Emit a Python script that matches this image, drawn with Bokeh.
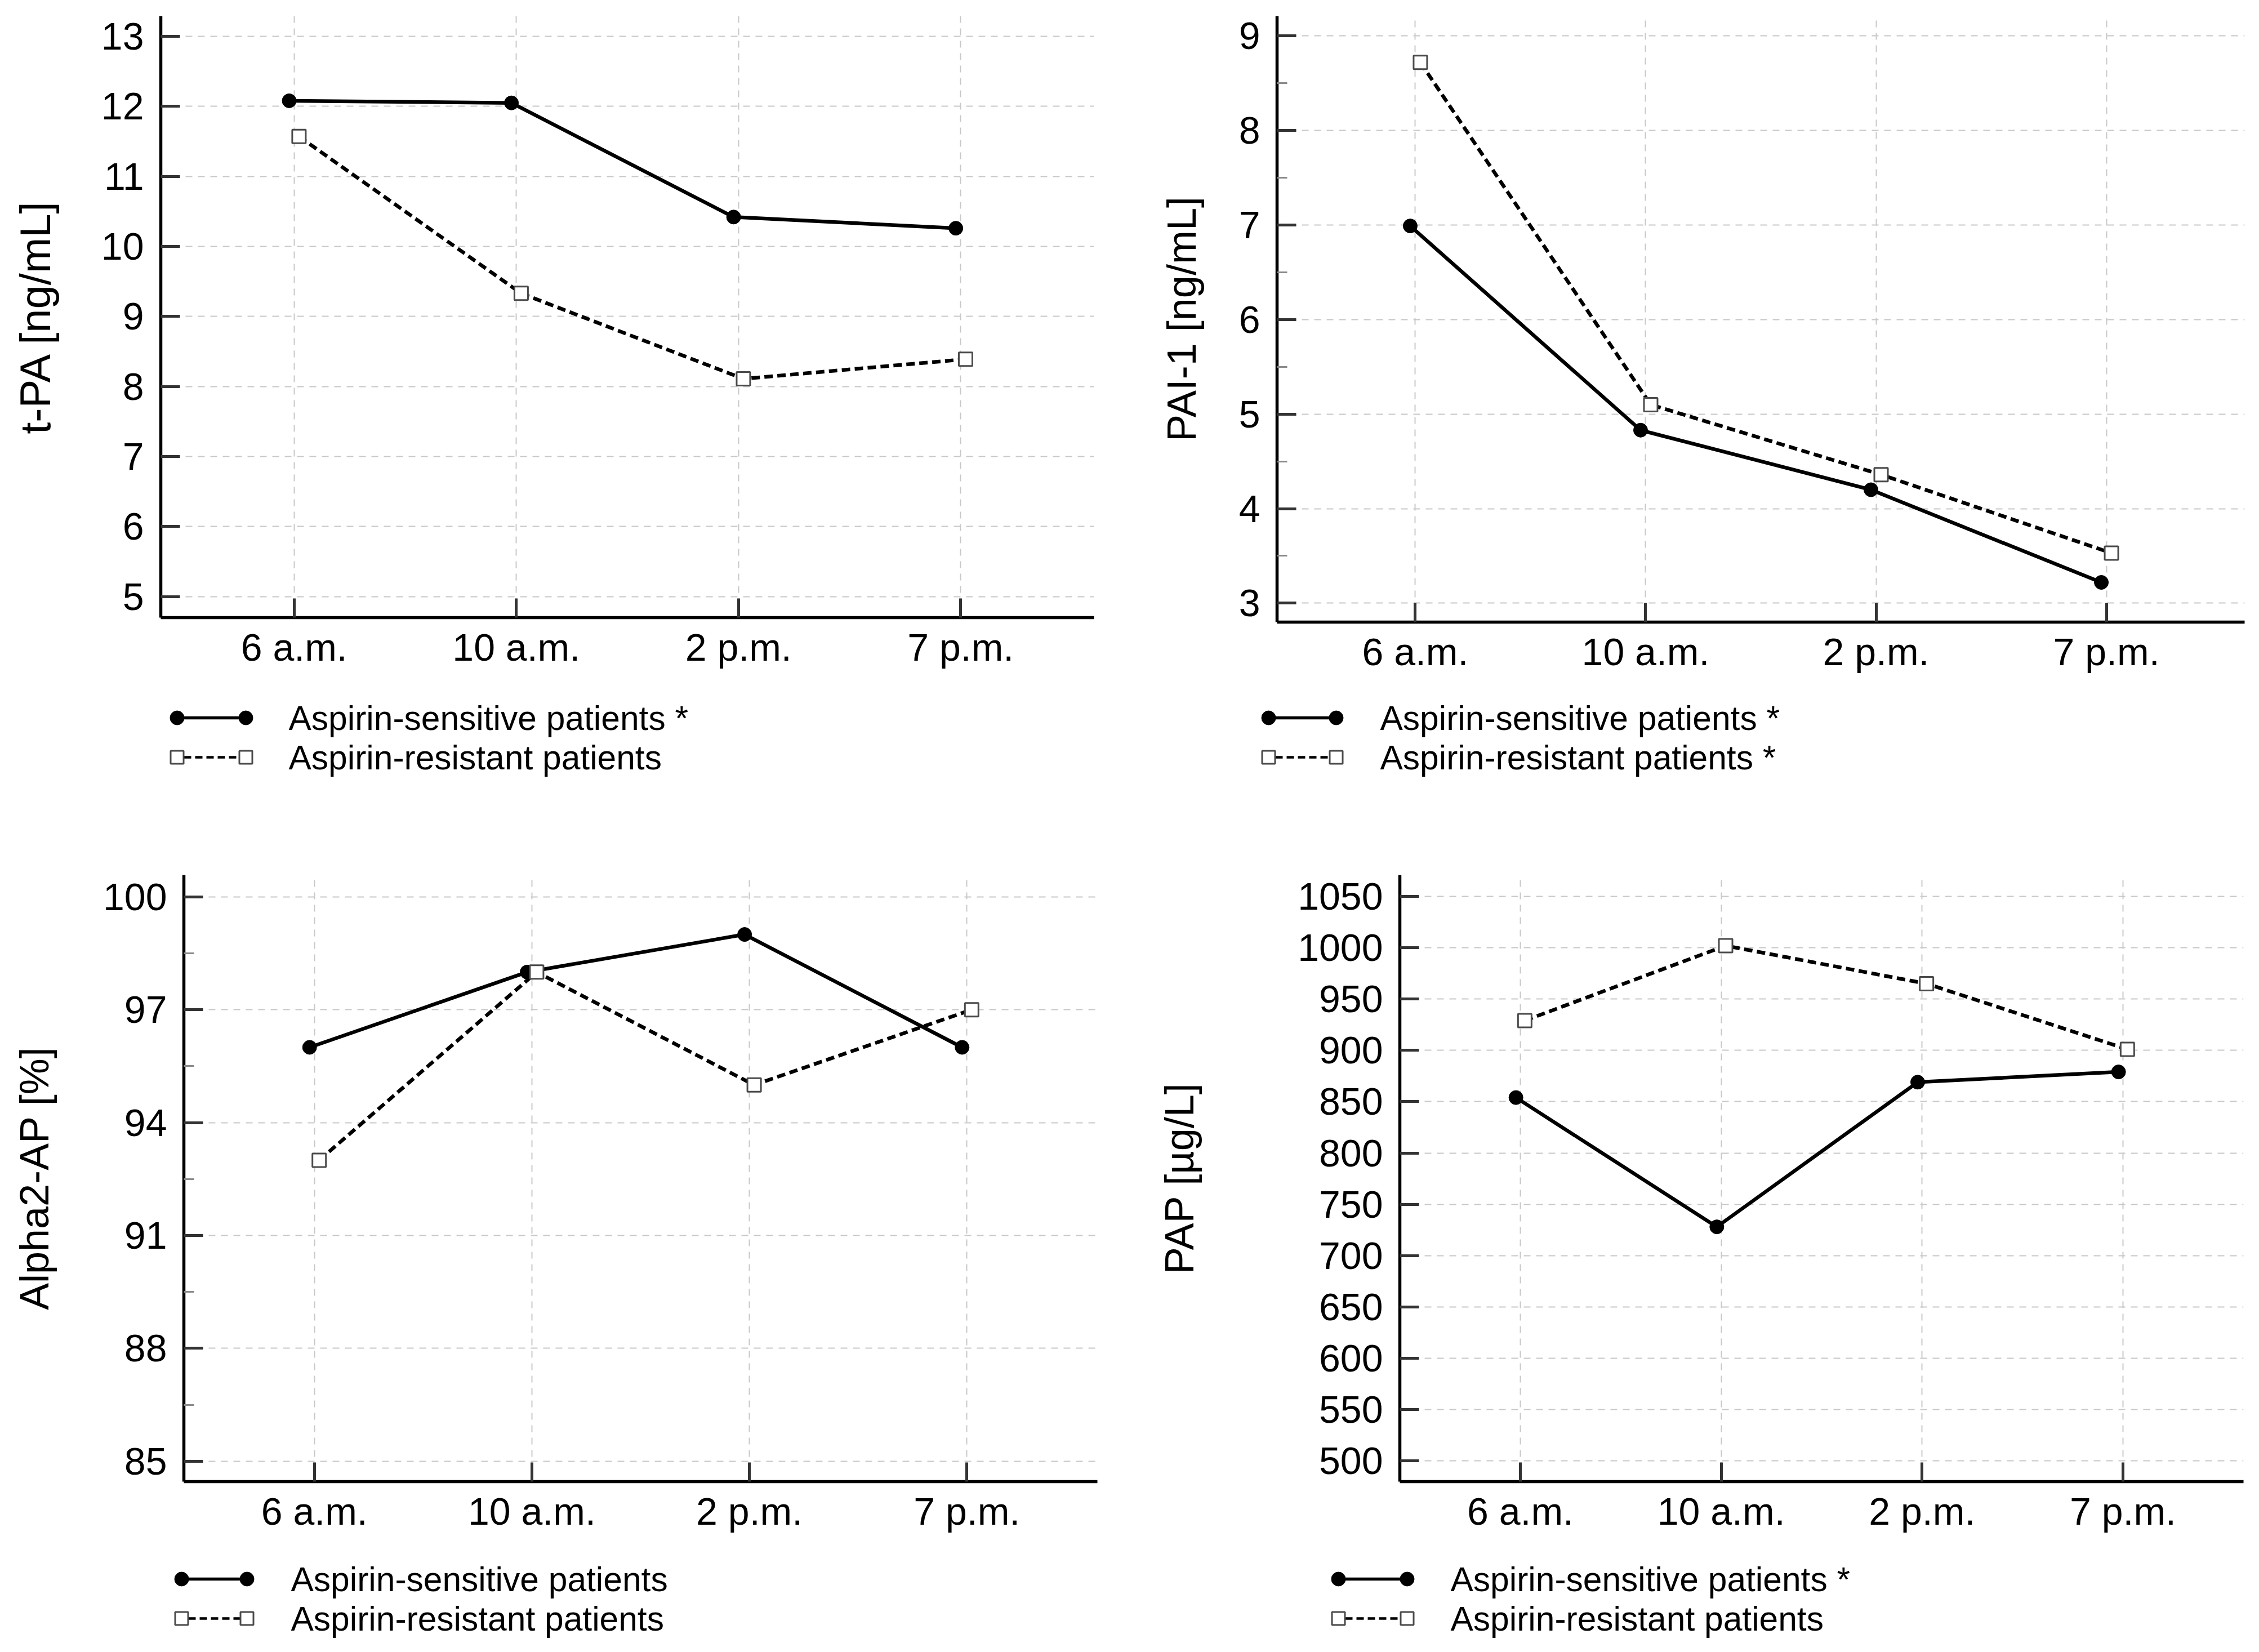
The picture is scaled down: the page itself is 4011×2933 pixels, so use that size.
import numpy as np
from bokeh.plotting import figure
from bokeh.layouts import row, column
from bokeh.models import Range1d, FixedTicker
from bokeh.embed import file_html
from bokeh.resources import INLINE
from bokeh.core.properties import value

# ---------------- data ----------------
categories = ["6 a.m.", "10 a.m.", "2 p.m.", "7 p.m."]

tpa_sensitive = [12.08, 12.05, 10.42, 10.26]
tpa_resistant = [11.57, 9.33, 8.11, 8.39]

pai_sensitive = [6.99, 4.83, 4.20, 3.22]
pai_resistant = [8.72, 5.10, 4.36, 3.53]

alpha_sensitive = [96, 98, 99, 96]
alpha_resistant = [93, 98, 95, 97]

pap_sensitive = [854, 728, 869, 879]
pap_resistant = [929, 1002, 965, 901]

tpa_ticks = [5, 6, 7, 8, 9, 10, 11, 12, 13]
pai_ticks = [3, 4, 5, 6, 7, 8, 9]
alpha_ticks = [85, 88, 91, 94, 97, 100]
pap_ticks = [500, 550, 600, 650, 700, 750, 800, 850, 900, 950, 1000, 1050]

label_sens = "Aspirin-sensitive patients"
label_res = "Aspirin-resistant patients"

# ---------------- style ----------------
FONT = "Liberation Sans"
OFFSET = 0.022
GRID = "#c8c8c8"


def make_panel(ylabel, sens, res, yr, ticks, minor, g, legend_texts):
    W = g["width"]
    L, R = g["left"], g["right"]
    p = figure(width=W, height=g["height"],
               x_range=Range1d(-0.6, 3.6), y_range=Range1d(*yr),
               output_backend="svg", toolbar_location=None,
               min_border_left=L, min_border_right=R,
               min_border_top=g["top"], min_border_bottom=g["bottom"])
    p.frame_align = False
    p.outline_line_color = None
    p.background_fill_color = "white"
    p.border_fill_color = "white"

    xs = np.arange(len(categories))
    p.line(xs - OFFSET, sens, line_color="black", line_width=6.5)
    p.scatter(xs - OFFSET, sens, marker="circle", size=25,
              fill_color="black", line_color="black")
    p.line(xs + OFFSET, res, line_color="black", line_width=6.5,
           line_dash="15 8")
    p.scatter(xs + OFFSET, res, marker="square", size=24,
              fill_color="white", line_color="#4a4a4a", line_width=3)

    # axes
    xa = p.xaxis[0]
    xa.ticker = FixedTicker(ticks=list(range(len(categories))))
    xa.major_label_overrides = {i: c for i, c in enumerate(categories)}
    xa.major_label_standoff = 14

    ya = p.yaxis[0]
    mt = [(a + b) / 2 for a, b in zip(ticks[:-1], ticks[1:])] if minor else []
    ya.ticker = FixedTicker(ticks=ticks, minor_ticks=mt)
    ya.axis_label = ylabel
    ya.axis_label_text_font = FONT
    ya.axis_label_text_font_size = g.get("label_size", "72px")
    ya.axis_label_text_font_style = "normal"
    ya.axis_label_text_color = "black"
    ya.axis_label_standoff = g["als"]
    ya.major_label_standoff = 30

    for ax in (xa, ya):
        ax.axis_line_color = "black"
        ax.axis_line_width = 5.5
        ax.major_tick_in = 34
        ax.major_tick_out = 0
        ax.major_tick_line_color = "#333333"
        ax.major_tick_line_width = 5
        ax.minor_tick_in = 18
        ax.minor_tick_out = 0
        ax.minor_tick_line_color = "#8a8a8a"
        ax.minor_tick_line_width = 3
        ax.major_label_text_font = FONT
        ax.major_label_text_font_size = "68px"
        ax.major_label_text_color = "black"

    for gr in (p.xgrid[0], p.ygrid[0]):
        gr.grid_line_color = GRID
        gr.grid_line_width = 2
        gr.grid_line_dash = "12 10"

    # legend area (own frame covering the whole strip)
    LH = g["leg_height"]
    lf = figure(width=W, height=LH, x_range=Range1d(0, W), y_range=Range1d(LH, 0),
                output_backend="svg", toolbar_location=None,
                x_axis_type=None, y_axis_type=None,
                min_border_left=0, min_border_right=0,
                min_border_top=0, min_border_bottom=0)
    lf.frame_align = False
    lf.grid.visible = False
    lf.outline_line_color = None
    lf.background_fill_color = "white"
    lf.border_fill_color = "white"
    x1, x2 = g["leg_x"]
    r1, r2 = g["leg_rows"]
    lf.line([x1, x2], [r1, r1], line_color="black", line_width=5.5)
    lf.scatter([x1, x2], [r1, r1], marker="circle", size=25,
               fill_color="black", line_color="black")
    lf.line([x1 + 12, x2 - 12], [r2, r2], line_color="black", line_width=4.5,
            line_dash="13 7")
    lf.scatter([x1, x2], [r2, r2], marker="square", size=23,
               fill_color="white", line_color="#4a4a4a", line_width=3)
    lf.text(x=[g["leg_tx"], g["leg_tx"]], y=[r1, r2], text=legend_texts,
            text_baseline="middle", text_align="left",
            text_font=value(FONT), text_font_size="60.5px", text_color="black")
    return column(p, lf, spacing=0)


g_tl = dict(width=1997, height=1224, left=285, right=55, top=28, bottom=128,
            als=72, label_size="76px",
            leg_height=234, leg_x=(314, 436), leg_rows=(50, 120), leg_tx=512)
g_tr = dict(width=1998, height=1224, left=270, right=10, top=28, bottom=120,
            als=59, leg_height=234, leg_x=(255, 375), leg_rows=(50, 120), leg_tx=453)
g_bl = dict(width=1997, height=1304, left=326, right=49, top=95, bottom=132,
            als=79, leg_height=155, leg_x=(322, 438), leg_rows=(41, 111), leg_tx=516)
g_br = dict(width=1998, height=1304, left=488, right=12, top=95, bottom=132,
            als=167, leg_height=155, leg_x=(379, 501), leg_rows=(41, 111), leg_tx=578)

tl = make_panel("t-PA [ng/mL]", tpa_sensitive, tpa_resistant, (4.70, 13.29),
                tpa_ticks, False, g_tl, [label_sens + " *", label_res])
tr = make_panel("PAI-1 [ng/mL]", pai_sensitive, pai_resistant, (2.80, 9.21),
                pai_ticks, True, g_tr, [label_sens + " *", label_res + " *"])
bl = make_panel("Alpha2-AP [%]", alpha_sensitive, alpha_resistant, (84.46, 100.58),
                alpha_ticks, True, g_bl, [label_sens, label_res])
br = make_panel("PAP [µg/L]", pap_sensitive, pap_resistant, (479.7, 1070.9),
                pap_ticks, False, g_br, [label_sens + " *", label_res])

layout = column(row(tl, tr, spacing=0), row(bl, br, spacing=0), spacing=0)

open("out.html", "w").write(file_html(layout, INLINE))
